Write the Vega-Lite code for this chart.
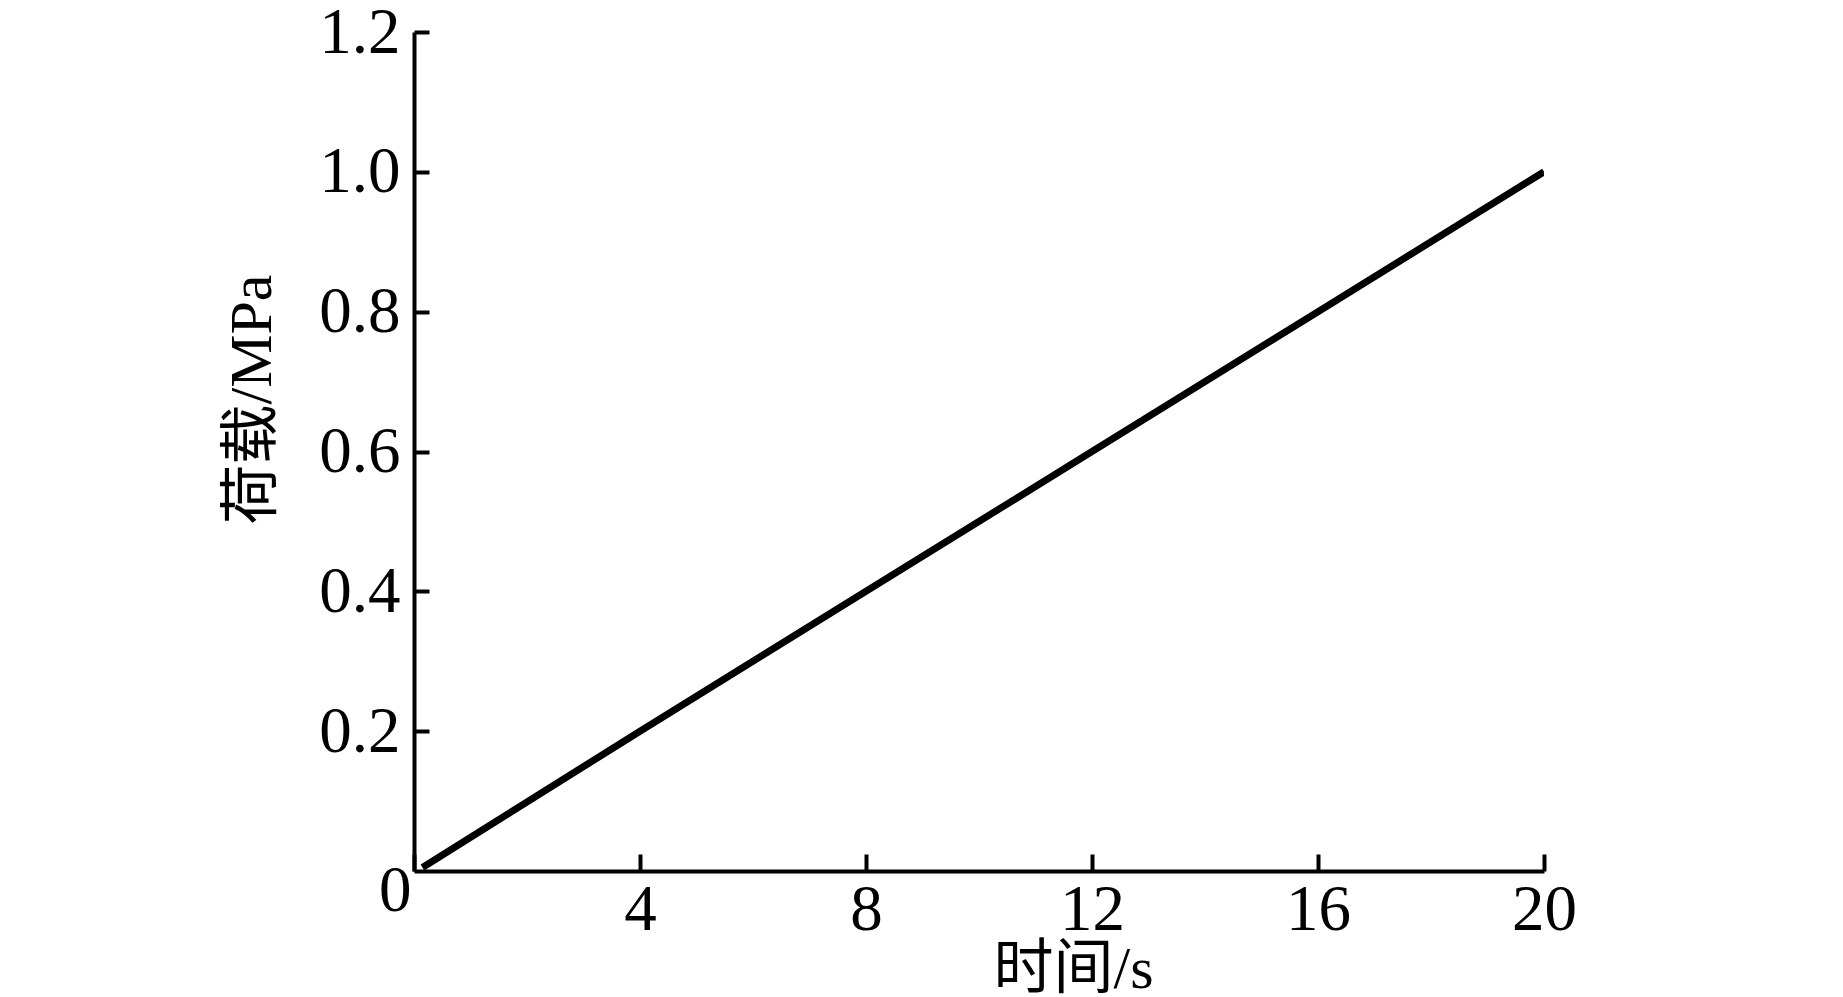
{
  "$schema": "https://vega.github.io/schema/vega-lite/v6.json",
  "autosize": "none",
  "width": 1130,
  "height": 839,
  "padding": {"left": 414, "top": 32, "right": 299, "bottom": 126},
  "background": "white",
  "config": {
    "view": {"stroke": null},
    "axis": {
      "labelFont": "Liberation Serif",
      "labelFontSize": 65,
      "labelColor": "black",
      "titleFont": "Liberation Serif, Noto Sans CJK SC",
      "titleFontSize": 60,
      "titleFontWeight": "normal",
      "titleColor": "black",
      "domainColor": "black",
      "domainWidth": 4,
      "tickColor": "black",
      "tickWidth": 4,
      "grid": false
    }
  },
  "data": {
    "values": [
      {"t": 0.15, "p": 0.005},
      {"t": 4, "p": 0.2},
      {"t": 8, "p": 0.4},
      {"t": 12, "p": 0.6},
      {"t": 16, "p": 0.8},
      {"t": 20, "p": 1.0}
    ]
  },
  "mark": {"type": "line", "color": "black", "strokeWidth": 7, "clip": true},
  "encoding": {
    "x": {
      "field": "t",
      "type": "quantitative",
      "scale": {"domain": [0, 20], "nice": false, "zero": true},
      "axis": {
        "title": "时间/s",
        "values": [0, 4, 8, 12, 16, 20],
        "format": "d",
        "tickSize": -17,
        "labelPadding": {"condition": {"test": "datum.value == 0", "value": 5}, "value": 24},
        "labelAlign": {"condition": {"test": "datum.value == 0", "value": "right"}, "value": "center"},
        "labelOffset": {"condition": {"test": "datum.value == 0", "value": -3}, "value": 0},
        "labelFlush": false,
        "labelOverlap": false,
        "titleX": 659,
        "titleY": 98,
        "titleAlign": "center",
        "titleBaseline": "middle",
        "titleAnchor": null
      }
    },
    "y": {
      "field": "p",
      "type": "quantitative",
      "scale": {"domain": [0, 1.2], "nice": false},
      "axis": {
        "title": "荷载/MPa",
        "values": [0.2, 0.4, 0.6, 0.8, 1.0, 1.2],
        "format": ".1f",
        "tickSize": -15,
        "labelPadding": 29,
        "labelFlush": false,
        "labelOverlap": false,
        "titleAngle": -90,
        "titleX": -162,
        "titleY": 367,
        "titleAlign": "center",
        "titleBaseline": "middle",
        "titleAnchor": null
      }
    }
  }
}
